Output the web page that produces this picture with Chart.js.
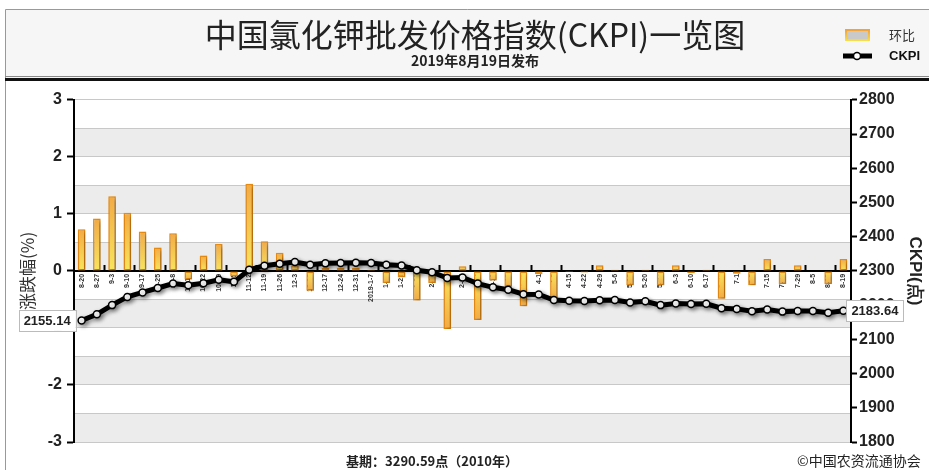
<!DOCTYPE html>
<html>
<head>
<meta charset="utf-8">
<script src="https://cdn.jsdelivr.net/npm/chart.js@4.4.1/dist/chart.umd.min.js"></script>
<style>
  html, body { margin: 0; padding: 0; background: #fff; }
  #wrap { width: 929px; height: 470px; position: relative; }
</style>
</head>
<body>
<div id="wrap"><canvas id="ckpiChart" width="929" height="470"></canvas></div>
<script>
// weekly release dates (2018-08-20 .. 2019-08-19)
const weeks = [
  "8-20", "8-27", "9-3", "9-10", "9-17", "9-25", "10-8", "10-15", "10-22", "10-29",
  "11-5", "11-12", "11-19", "11-26", "12-3", "12-10", "12-17", "12-24", "12-31", "2019-1-7",
  "1-14", "1-21", "1-28", "2-11", "2-18", "2-25", "3-4", "3-11", "3-18", "3-25",
  "4-1", "4-8", "4-15", "4-22", "4-29", "5-6", "5-13", "5-20", "5-27", "6-3",
  "6-10", "6-17", "6-24", "7-1", "7-8", "7-15", "7-22", "7-29", "8-5", "8-12", "8-19"
];

// 环比 (%)
const changePct = [
  0.73, 0.92, 1.31, 1.02, 0.69, 0.41, 0.66, -0.15, 0.27, 0.47,
  -0.10, 1.53, 0.52, 0.32, 0.10, -0.35, 0.05, 0.05, 0.05, 0.02,
  -0.21, -0.11, -0.52, -0.21, -1.02, 0.08, -0.86, -0.17, -0.28, -0.62,
  -0.06, -0.50, -0.02, -0.03, 0.10, 0.02, -0.25, 0.02, -0.25, 0.10,
  -0.04, 0.02, -0.49, -0.05, -0.25, 0.21, -0.23, 0.10, 0.00, -0.23, 0.21
];

// CKPI (点)
const ckpi = [
  2155.14, 2173, 2200, 2224, 2237, 2250, 2263, 2258, 2264, 2274,
  2268, 2303, 2315, 2321, 2326, 2318, 2322, 2323, 2324, 2323,
  2318, 2316, 2302, 2296, 2279, 2281, 2263, 2252, 2245, 2232,
  2231, 2215, 2213, 2212, 2214, 2215, 2208, 2211, 2200, 2205,
  2203, 2204, 2191, 2189, 2182, 2187, 2181, 2183, 2183, 2178, 2183.64
];

const leftTicks = [-3, -2, -1, 0, 1, 2, 3];
const rightTicks = [1800, 1900, 2000, 2100, 2200, 2300, 2400, 2500, 2600, 2700, 2800];

const NUM_FONT = "'Liberation Sans', Arial, sans-serif";
const CJK_FONT = "'Noto Sans CJK SC', 'Liberation Sans', sans-serif";

function barFill(ctx) {
  const chart = ctx.chart;
  if (!chart.chartArea || ctx.raw === undefined) return "#f5c84a";
  const y = chart.scales.y;
  const y0 = y.getPixelForValue(0);
  const y1 = y.getPixelForValue(ctx.raw);
  if (Math.abs(y0 - y1) < 1) return "#f3b04a";
  const g = chart.ctx.createLinearGradient(0, y1, 0, y0);
  g.addColorStop(0, "#f2aa45");
  g.addColorStop(1, "#f8e55c");
  return g;
}

// page frame, header, zebra bands, value boxes, legend, footer
const decorations = {
  id: "decorations",
  beforeDraw(chart) {
    const { ctx, chartArea } = chart;
    ctx.save();
    ctx.fillStyle = "#f6f6f6";
    ctx.fillRect(5, 10, 924, 68);
    ctx.strokeStyle = "#999";
    ctx.lineWidth = 1;
    ctx.beginPath();
    ctx.moveTo(5.5, 470); ctx.lineTo(5.5, 9.5); ctx.lineTo(929, 9.5);
    ctx.stroke();
    ctx.strokeStyle = "#888";
    ctx.beginPath(); ctx.moveTo(5, 76.5); ctx.lineTo(929, 76.5); ctx.stroke();
    ctx.strokeStyle = "#111";
    ctx.lineWidth = 3;
    ctx.beginPath(); ctx.moveTo(5, 79.5); ctx.lineTo(929, 79.5); ctx.stroke();

    // alternating bands every 0.5 %
    const y = chart.scales.y;
    ctx.fillStyle = "#ececec";
    for (let v = -3; v < 3; v += 1) {
      const top = y.getPixelForValue(v + 0.5);
      const bot = y.getPixelForValue(v);
      ctx.fillRect(chartArea.left, top, chartArea.right - chartArea.left, bot - top);
    }
    ctx.restore();
  },
  beforeDatasetDraw(chart) {
    const ctx = chart.ctx;
    ctx.save();
    ctx.shadowColor = "rgba(0,0,0,0.35)";
    ctx.shadowBlur = 4;
    ctx.shadowOffsetX = 2;
    ctx.shadowOffsetY = 2;
  },
  afterDatasetDraw(chart) {
    chart.ctx.restore();
  },
  afterDraw(chart) {
    const { ctx } = chart;
    const pts = chart.getDatasetMeta(1).data;
    ctx.save();

    // first / last CKPI value boxes
    const boxes = [
      { i: 0, side: "left" },
      { i: ckpi.length - 1, side: "right" }
    ];
    ctx.font = "bold 13px " + NUM_FONT;
    ctx.textBaseline = "middle";
    boxes.forEach(b => {
      const p = pts[b.i];
      const txt = ckpi[b.i].toFixed(2);
      const w = ctx.measureText(txt).width + 10;
      const h = 21;
      const x = b.side === "left" ? p.x - 6 - w : p.x + 3;
      const yy = p.y - h / 2;
      ctx.fillStyle = "#fff";
      ctx.fillRect(x, yy, w, h);
      ctx.strokeStyle = "#bbb";
      ctx.lineWidth = 1;
      ctx.strokeRect(Math.round(x) + 0.5, Math.round(yy) + 0.5, w, h);
      ctx.fillStyle = "#222";
      ctx.textAlign = "left";
      ctx.fillText(txt, x + 5, yy + h / 2 + 1);
    });

    // legend
    const ds = chart.data.datasets;
    ctx.textAlign = "left";
    ctx.textBaseline = "middle";
    const lg = ctx.createLinearGradient(0, 30, 0, 41);
    lg.addColorStop(0, "#f2a33a");
    lg.addColorStop(1, "#f7e04a");
    ctx.fillStyle = "#c9c9c9";
    ctx.fillRect(846, 30, 23, 10);
    ctx.strokeStyle = lg;
    ctx.lineWidth = 2;
    ctx.strokeRect(846, 30, 23, 10);
    ctx.fillStyle = "#333";
    ctx.font = "13px " + CJK_FONT;
    ctx.fillText(ds[0].label, 889, 35);

    ctx.strokeStyle = "#000";
    ctx.lineWidth = 5;
    ctx.beginPath(); ctx.moveTo(843, 56); ctx.lineTo(872, 56); ctx.stroke();
    ctx.fillStyle = "#fff";
    ctx.lineWidth = 1.5;
    ctx.beginPath(); ctx.arc(857, 56, 3.5, 0, Math.PI * 2); ctx.fill(); ctx.stroke();
    ctx.fillStyle = "#111";
    ctx.font = "bold 13px " + NUM_FONT;
    ctx.fillText(ds[1].label, 889, 56);

    // footer
    ctx.font = "bold 13px " + CJK_FONT;
    ctx.textAlign = "center";
    ctx.fillStyle = "#222";
    ctx.fillText("基期：3290.59点（2010年）", 432, 461);
    ctx.font = "14px " + CJK_FONT;
    ctx.textAlign = "left";
    ctx.fillText("©中国农资流通协会", 797, 461);
    ctx.restore();
  }
};

const chart = new Chart(document.getElementById("ckpiChart"), {
  data: {
    labels: weeks,
    datasets: [
      {
        type: "bar",
        label: "环比",
        data: changePct,
        yAxisID: "y",
        order: 2,
        backgroundColor: barFill,
        borderColor: "#e98c12",
        borderWidth: 1.5,
        borderSkipped: false,
        barPercentage: 0.5,
        categoryPercentage: 1
      },
      {
        type: "line",
        label: "CKPI",
        data: ckpi,
        yAxisID: "y1",
        order: 1,
        borderColor: "#000",
        borderWidth: 5,
        tension: 0,
        pointRadius: 3.5,
        pointBorderWidth: 1.5,
        pointBackgroundColor: "#fff",
        pointBorderColor: "#000"
      }
    ]
  },
  options: {
    responsive: false,
    animation: false,
    layout: { padding: { left: 21, right: 0, top: 0, bottom: 28 } },
    plugins: {
      legend: { display: false },
      tooltip: { enabled: false },
      title: {
        display: true,
        text: "中国氯化钾批发价格指数(CKPI)一览图",
        color: "#222",
        font: { family: CJK_FONT, size: 32, weight: "normal", lineHeight: 1.0 },
        padding: { top: 19, bottom: 0 }
      },
      subtitle: {
        display: true,
        text: "2019年8月19日发布",
        color: "#222",
        font: { family: CJK_FONT, size: 14, weight: "bold", lineHeight: 1.2 },
        padding: { top: 1, bottom: 31 }
      }
    },
    scales: {
      x: {
        position: { y: 0 },
        offset: true,
        border: { display: true, color: "#000", width: 2 },
        grid: {
          offset: true,
          drawOnChartArea: false,
          tickLength: -7,
          tickWidth: 2,
          tickColor: (c) => (c.index % 2 === 0 && c.index > 0 ? "#000" : "rgba(0,0,0,0)")
        },
        ticks: {
          autoSkip: false,
          minRotation: 90,
          maxRotation: 90,
          padding: 10,
          color: "#333",
          font: { family: NUM_FONT, size: 7, weight: "bold" }
        }
      },
      y: {
        position: "left",
        min: -3,
        max: 3,
        afterFit(scale) { scale.width = 53; },
        afterBuildTicks(scale) {
          scale.ticks = [];
          for (let v = -3; v <= 3.001; v += 0.5) scale.ticks.push({ value: Math.round(v * 10) / 10 });
        },
        border: { color: "#000", width: 2 },
        grid: {
          color: "#c8c8c8",
          lineWidth: 1,
          tickLength: 7,
          tickWidth: 2,
          tickColor: (c) => (leftTicks.includes(c.tick.value) ? "#000" : "rgba(0,0,0,0)")
        },
        ticks: {
          padding: 5,
          color: "#222",
          font: { family: NUM_FONT, size: 16, weight: "bold" },
          callback: (v) => (leftTicks.includes(v) ? String(v) : "")
        },
        title: {
          display: true,
          text: "涨跌幅(%)",
          color: "#333",
          font: { family: CJK_FONT, size: 17, lineHeight: 0.8 },
          padding: { top: 0, bottom: 0 }
        }
      },
      y1: {
        position: "right",
        min: rightTicks[0],
        max: rightTicks[rightTicks.length - 1],
        afterFit(scale) { scale.width = 78; },
        afterBuildTicks(scale) { scale.ticks = rightTicks.map(v => ({ value: v })); },
        border: { color: "#000", width: 2 },
        grid: { drawOnChartArea: false, tickLength: 6, tickWidth: 2, tickColor: "#000" },
        ticks: {
          padding: 2,
          color: "#222",
          font: { family: NUM_FONT, size: 16, weight: "bold" },
          callback: (v) => String(v)
        },
        title: {
          display: true,
          text: "CKPI(点)",
          color: "#222",
          font: { family: NUM_FONT, size: 17, weight: "bold" },
          padding: { top: 4, bottom: 0 }
        }
      }
    }
  },
  plugins: [decorations]
});
</script>
</body>
</html>
